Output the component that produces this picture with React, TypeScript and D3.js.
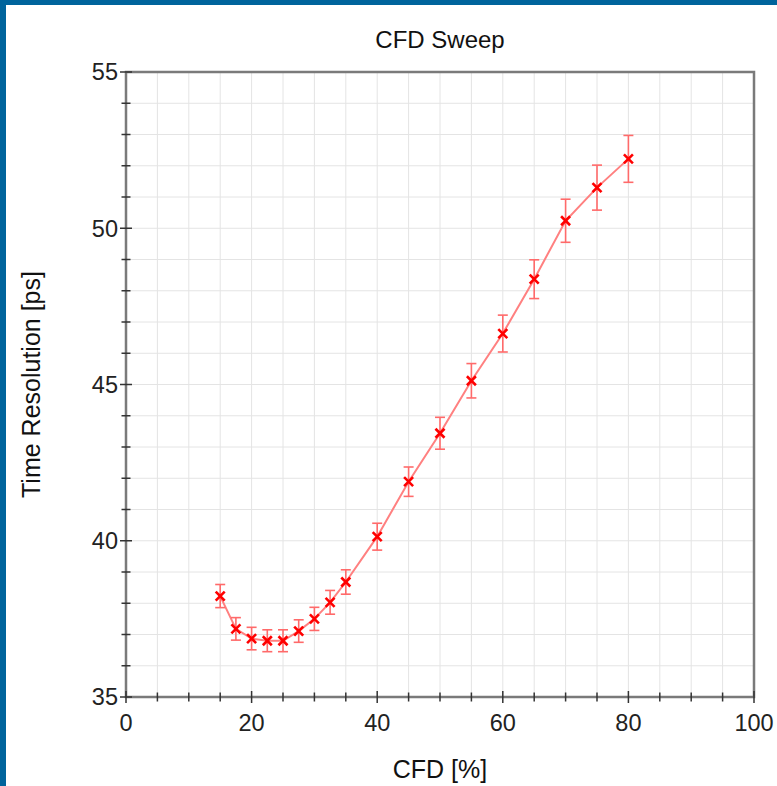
import React from "react";
import * as d3 from "d3";

const cfd = [15, 17.5, 20, 22.5, 25, 27.5, 30, 32.5, 35, 40, 45, 50, 55, 60, 65, 70, 75, 80];
const resolution = [38.23, 37.18, 36.87, 36.8, 36.8, 37.11, 37.5, 38.03, 38.68, 40.13, 41.89, 43.44, 45.12, 46.63, 48.37, 50.24, 51.3, 52.22];
const errors = [0.37, 0.36, 0.36, 0.35, 0.35, 0.36, 0.37, 0.38, 0.39, 0.43, 0.47, 0.51, 0.55, 0.59, 0.62, 0.69, 0.72, 0.75];
const xMajor = [0, 20, 40, 60, 80, 100];
const yMajor = [35, 40, 45, 50, 55];

const W = 777;
const H = 786;
const M = { left: 126, right: 754, top: 72, bottom: 697 };
const FONT = "'Liberation Sans', Arial, Helvetica, sans-serif";

export default function App() {
  const x = d3.scaleLinear().domain([0, 100]).range([M.left, M.right]);
  const y = d3.scaleLinear().domain([35, 55]).range([M.bottom, M.top]);
  const xMinor = d3.range(0, 101, 5);
  const yMinor = d3.range(35, 56, 1);
  const line = d3
    .line<number>()
    .x((_, i) => x(cfd[i]))
    .y((d) => y(d));
  const axisColor = "#7a7a7a";
  const tickColor = "#333";

  return (
    <svg
      width={W}
      height={H}
      style={{ position: "fixed", left: 0, top: 0, background: "#fff" }}
    >
      <rect x={0} y={0} width={W} height={H} fill="#fff" />
      {/* grid */}
      {xMinor.map((v) => (
        <line key={"gx" + v} x1={x(v)} x2={x(v)} y1={M.top} y2={M.bottom} stroke="#e4e4e4" strokeWidth={1} />
      ))}
      {yMinor.map((v) => (
        <line key={"gy" + v} x1={M.left} x2={M.right} y1={y(v)} y2={y(v)} stroke="#e4e4e4" strokeWidth={1} />
      ))}
      {/* frame */}
      <rect
        x={M.left}
        y={M.top}
        width={M.right - M.left}
        height={M.bottom - M.top}
        fill="none"
        stroke={axisColor}
        strokeWidth={2.5}
      />
      {/* y ticks */}
      {yMinor.map((v) => {
        const major = yMajor.includes(v);
        const l = major ? 6 : 4.5;
        return (
          <line key={"ty" + v} x1={M.left - l} x2={M.left + l} y1={y(v)} y2={y(v)} stroke={tickColor} strokeWidth={1.5} />
        );
      })}
      {/* x ticks */}
      {xMinor.map((v) => {
        const major = xMajor.includes(v);
        const l = major ? 6 : 4.5;
        return (
          <line key={"tx" + v} x1={x(v)} x2={x(v)} y1={M.bottom - l} y2={M.bottom + l} stroke={tickColor} strokeWidth={1.5} />
        );
      })}
      {/* tick labels */}
      {yMajor.map((v) => (
        <text key={"ly" + v} x={M.left - 8} y={y(v)} dy="0.36em" textAnchor="end" fontFamily={FONT} fontSize={23.5} fill="#222">
          {v}
        </text>
      ))}
      {xMajor.map((v) => (
        <text key={"lx" + v} x={x(v)} y={M.bottom + 34} textAnchor="middle" fontFamily={FONT} fontSize={23.5} fill="#222">
          {v}
        </text>
      ))}
      {/* data line */}
      <path d={line(resolution) || ""} fill="none" stroke="#ff8080" strokeWidth={2} />
      {/* error bars */}
      {resolution.map((v, i) => {
        const cx = x(cfd[i]);
        const t = y(v + errors[i]);
        const b = y(v - errors[i]);
        return (
          <g key={"e" + i} stroke="#ff6a6a" strokeWidth={1.6}>
            <line x1={cx} x2={cx} y1={t} y2={b} />
            <line x1={cx - 5} x2={cx + 5} y1={t} y2={t} />
            <line x1={cx - 5} x2={cx + 5} y1={b} y2={b} />
          </g>
        );
      })}
      {/* markers */}
      {resolution.map((v, i) => {
        const cx = x(cfd[i]);
        const cy = y(v);
        const s = 4.5;
        return (
          <g key={"m" + i} stroke="#ff0000" strokeWidth={2.6}>
            <line x1={cx - s} x2={cx + s} y1={cy - s} y2={cy + s} />
            <line x1={cx - s} x2={cx + s} y1={cy + s} y2={cy - s} />
          </g>
        );
      })}
      {/* titles */}
      <text x={(M.left + M.right) / 2} y={48} textAnchor="middle" fontFamily={FONT} fontSize={24} fill="#111">
        CFD Sweep
      </text>
      <text x={(M.left + M.right) / 2} y={778} textAnchor="middle" fontFamily={FONT} fontSize={25} fill="#111">
        CFD [%]
      </text>
      <text
        transform={`translate(40, ${(M.top + M.bottom) / 2}) rotate(-90)`}
        textAnchor="middle"
        fontFamily={FONT}
        fontSize={25}
        fill="#111"
      >
        Time Resolution [ps]
      </text>
      {/* blue border */}
      <rect x={0} y={0} width={W} height={5} fill="#00649c" />
      <rect x={0} y={0} width={6} height={H} fill="#00649c" />
    </svg>
  );
}
